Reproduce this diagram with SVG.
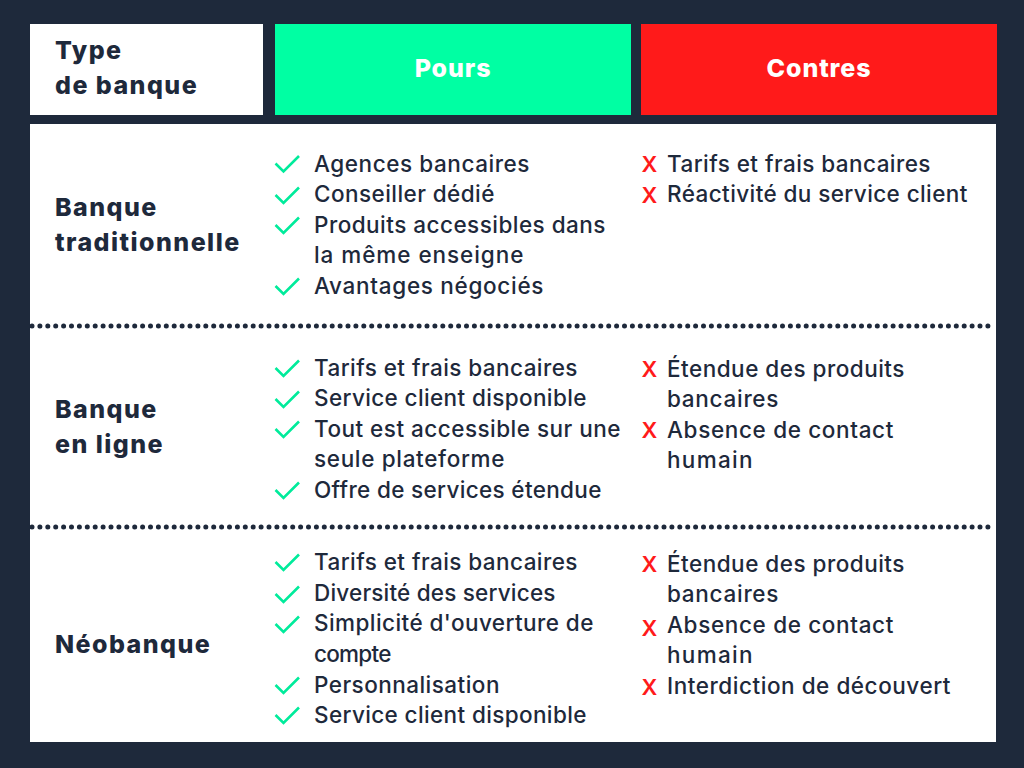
<svg xmlns="http://www.w3.org/2000/svg" width="1024" height="768" viewBox="0 0 1024 768">
<defs><style>
text{font-family:"Inter","Noto Sans",sans-serif;fill:#1e293b}
.h{font-size:25px;font-weight:800;letter-spacing:1.45px}
.w{fill:#fff;text-anchor:middle;letter-spacing:.9px}
.t{font-size:22.5px;font-weight:450;letter-spacing:.58px}
.x{font-size:22px;font-weight:600;fill:#ff1a1a}
.d{stroke:#1e293b;stroke-width:5;stroke-linecap:round;stroke-dasharray:0 7.9;fill:none}
.c{stroke:#00eb9b;stroke-width:2.6;fill:none}
</style>
<path id="ck" d="M0 0l8 8L23.500 -7.500"/></defs>
<rect width="1024" height="768" fill="#1e293b"/>
<g id="head-type"><rect x="30" y="24" width="233" height="91" fill="#fff"/><text class="h" x="55" y="59">Type</text><text class="h" x="55" y="94">de banque</text></g>
<g id="head-pour"><rect x="275" y="24" width="356" height="91" fill="#00ffa3"/><text class="h w" x="453" y="77">Pours</text></g>
<g id="head-contre"><rect x="641" y="24" width="356" height="91" fill="#ff1a1a"/><text class="h w" x="819" y="77">Contres</text></g>
<g id="body"><rect x="30" y="124" width="966" height="618" fill="#fff"/></g>
<g id="connectors"><path class="d" d="M32 326H995"/><path class="d" d="M32 527H995"/></g>
<g id="row1">
<text class="h" x="55" y="216">Banque</text><text class="h" x="55" y="251">traditionnelle</text>
<use href="#ck" class="c" x="275.500" y="163.500"/><use href="#ck" class="c" x="275.500" y="195"/><use href="#ck" class="c" x="275.500" y="225"/><use href="#ck" class="c" x="275.500" y="286"/>
<text class="t" x="314" y="172" textLength="216">Agences bancaires</text><text class="t" x="314" y="202" textLength="181">Conseiller dédié</text><text class="t" x="314" y="233" textLength="292">Produits accessibles dans</text><text class="t" x="314" y="263" textLength="210">la même enseigne</text><text class="t" x="314" y="294" textLength="230">Avantages négociés</text>
<text class="x" x="641.500" y="172">X</text><text class="x" x="641.500" y="203">X</text>
<text class="t" x="667" y="172" textLength="264">Tarifs et frais bancaires</text><text class="t" x="667" y="202" textLength="301">Réactivité du service client</text>
</g>
<g id="row2">
<text class="h" x="55" y="418">Banque</text><text class="h" x="55" y="453">en ligne</text>
<use href="#ck" class="c" x="275.500" y="368"/><use href="#ck" class="c" x="275.500" y="399"/><use href="#ck" class="c" x="275.500" y="429"/><use href="#ck" class="c" x="275.500" y="490"/>
<text class="t" x="314" y="376" textLength="264">Tarifs et frais bancaires</text><text class="t" x="314" y="406" textLength="273">Service client disponible</text><text class="t" x="314" y="437" textLength="307">Tout est accessible sur une</text><text class="t" x="314" y="467" textLength="191">seule plateforme</text><text class="t" x="314" y="498" textLength="288">Offre de services étendue</text>
<text class="x" x="641.500" y="377">X</text><text class="x" x="641.500" y="438">X</text>
<text class="t" x="667" y="377" textLength="238">Étendue des produits</text><text class="t" x="667" y="407" textLength="112">bancaires</text><text class="t" x="667" y="438" textLength="227">Absence de contact</text><text class="t" x="667" y="468" textLength="86">humain</text>
</g>
<g id="row3">
<text class="h" x="55" y="653">Néobanque</text>
<use href="#ck" class="c" x="275.500" y="562"/><use href="#ck" class="c" x="275.500" y="594"/><use href="#ck" class="c" x="275.500" y="624"/><use href="#ck" class="c" x="275.500" y="685"/><use href="#ck" class="c" x="275.500" y="715"/>
<text class="t" x="314" y="570" textLength="264">Tarifs et frais bancaires</text><text class="t" x="314" y="601" textLength="242">Diversité des services</text><text class="t" x="314" y="631" textLength="280">Simplicité d'ouverture de</text><text class="t" x="314" y="662" textLength="78">compte</text><text class="t" x="314" y="693" textLength="186">Personnalisation</text><text class="t" x="314" y="723" textLength="273">Service client disponible</text>
<text class="x" x="641.500" y="572">X</text><text class="x" x="641.500" y="636">X</text><text class="x" x="641.500" y="695">X</text>
<text class="t" x="667" y="572" textLength="238">Étendue des produits</text><text class="t" x="667" y="602" textLength="112">bancaires</text><text class="t" x="667" y="633" textLength="227">Absence de contact</text><text class="t" x="667" y="663" textLength="86">humain</text><text class="t" x="667" y="694" textLength="284">Interdiction de découvert</text>
</g>
</svg>
